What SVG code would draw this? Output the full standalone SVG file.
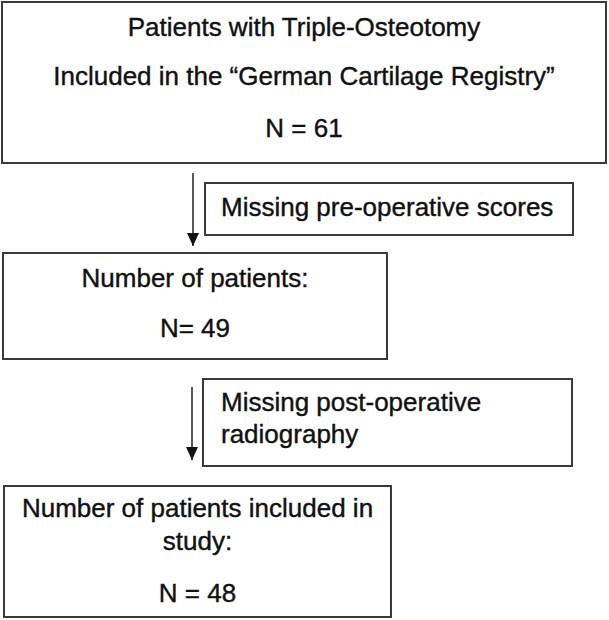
<svg xmlns="http://www.w3.org/2000/svg" width="609" height="620" viewBox="0 0 609 620">
<style>
.box{fill:#fff;stroke:#3a3a3a;stroke-width:2}
.t{font-family:"Liberation Sans",Arial,sans-serif;font-size:26px;fill:#111;stroke:#111;stroke-width:0.4}
.c{text-anchor:middle}
.arr{stroke:#222;stroke-width:1.5;fill:none}
</style>
<defs>
<marker id="ah" markerWidth="13" markerHeight="12" refX="13" refY="6" orient="auto" markerUnits="userSpaceOnUse" viewBox="0 0 13 12">
<path d="M0,0 L13,6 L0,12 Z" fill="#111"/>
</marker>
</defs>
<rect width="609" height="620" fill="#fff"/>
<g id="n1">
<rect class="box" x="2" y="2" width="604" height="161"/>
<text class="t c" x="304" y="36">Patients with Triple-Osteotomy</text>
<text class="t c" x="304" y="85">Included in the “German Cartilage Registry”</text>
<text class="t c" x="304" y="137">N = 61</text>
</g>
<g id="n2">
<rect class="box" x="205" y="183" width="368" height="52"/>
<text class="t" x="221" y="216">Missing pre-operative scores</text>
</g>
<g id="n3">
<rect class="box" x="3" y="253" width="384" height="106"/>
<text class="t c" x="195" y="287">Number of patients:</text>
<text class="t c" x="195" y="337">N= 49</text>
</g>
<g id="n4">
<rect class="box" x="203" y="379" width="369" height="87"/>
<text class="t" x="221" y="411">Missing post-operative</text>
<text class="t" x="221" y="443">radiography</text>
</g>
<g id="n5">
<rect class="box" x="4" y="486" width="387" height="131"/>
<text class="t c" x="197.5" y="517">Number of patients included in</text>
<text class="t c" x="197.5" y="550">study:</text>
<text class="t c" x="197.5" y="602">N = 48</text>
</g>
<g id="connectors">
<line class="arr" x1="193" y1="173" x2="193" y2="246" marker-end="url(#ah)"/>
<line class="arr" x1="192" y1="387" x2="192" y2="460" marker-end="url(#ah)"/>
</g>
</svg>
